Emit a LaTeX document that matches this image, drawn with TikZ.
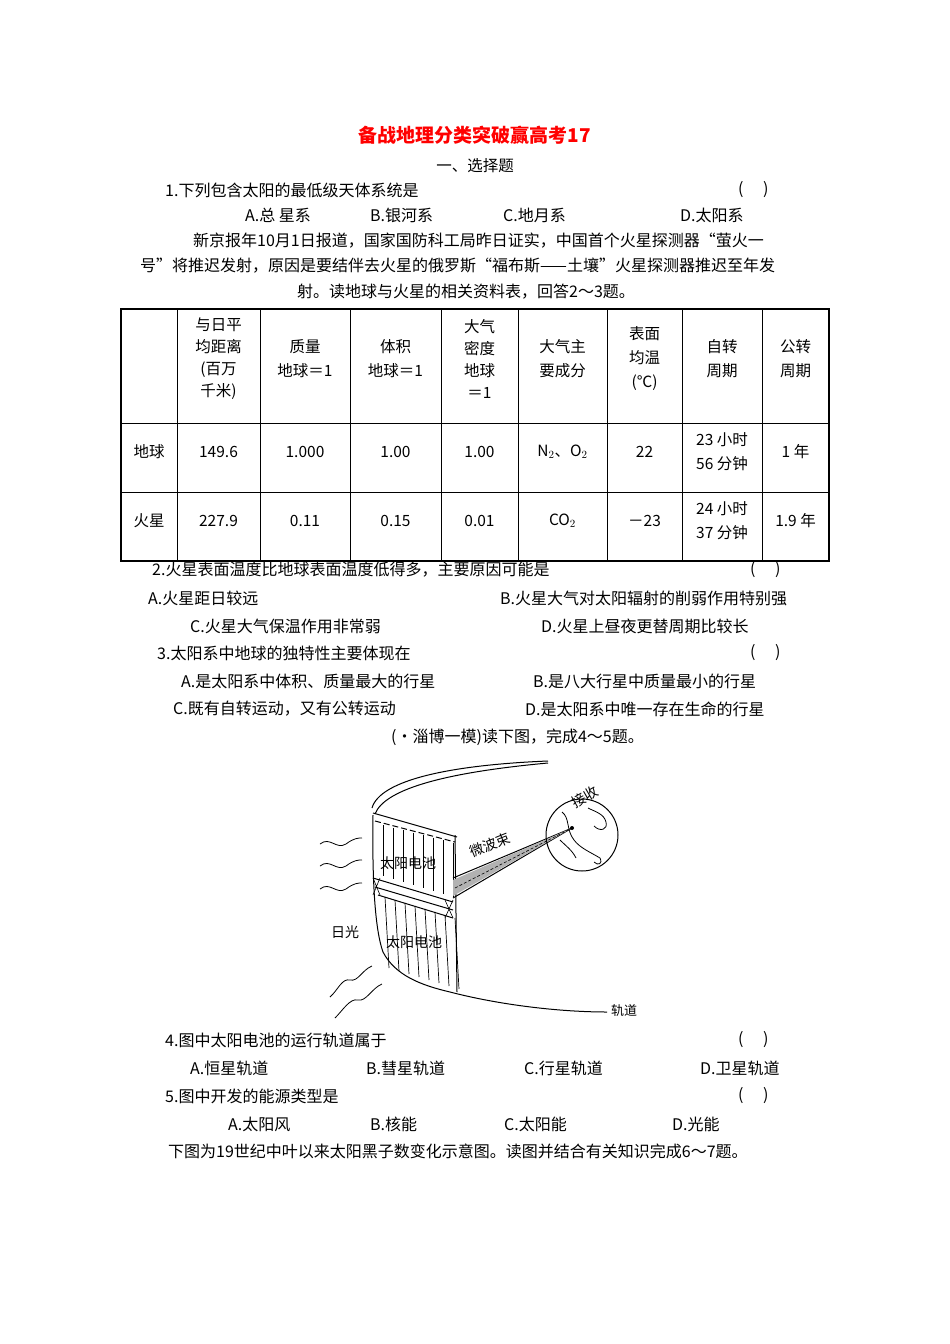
\documentclass[tikz,border=0pt]{standalone}
\usepackage{fontspec}
\setmainfont{Noto Sans CJK SC}
\begin{document}
\begin{tikzpicture}[x=1pt,y=-1pt,
  t/.style={anchor=west,inner sep=0pt,font=\fontsize{16}{18}\selectfont},
  c/.style={inner sep=0pt,font=\fontsize{15.5}{18}\selectfont,align=center},
  ln/.style={line width=1pt},
  wv/.style={line width=0.8pt}]
\fill[white] (0,0) rectangle (950,1344);
\useasboundingbox (0,0) rectangle (950,1344);
\node[c,text=red,font=\fontsize{19}{22}\selectfont\bfseries] (title) at (475,135) {备战地理分类突破赢高考17};
\node[c] (sec) at (475,166) {一、选择题};
\node[t] (q1) at (165,190) {1.下列包含太阳的最低级天体系统是};
\node[t] (q1b) at (738,190) {(\quad\ )};
\node[t] (q1a) at (245,215) {A.总\ 星系};
\node[t] (q1bb) at (370,215) {B.银河系};
\node[t] (q1c) at (503,215) {C.地月系};
\node[t] (q1d) at (680,215) {D.太阳系};
\node[t] (p1) at (193,241) {新京报年10月1日报道，国家国防科工局昨日证实，中国首个火星探测器“萤火一};
\node[t] (p2) at (140,266) {号”将推迟发射，原因是要结伴去火星的俄罗斯“福布斯——土壤”火星探测器推迟至年发};
\node[t] (p3) at (297,292) {射。读地球与火星的相关资料表，回答2～3题。};
% table
\draw[line width=1.2pt] (121,309) rectangle (829,561);
\draw[line width=1pt] (121,423)--(829,423) (121,492)--(829,492);
\foreach \x in {177,260,350,441,518,607,682,762} \draw[line width=1pt] (\x,309)--(\x,561);
\node[c] (h1) at (218.5,359) {与日平\\[4pt]均距离\\[4pt](百万\\[4pt]千米)};
\node[c] (h2) at (305,359) {质量\\[6pt]地球＝1};
\node[c] (h3) at (395.5,359) {体积\\[6pt]地球＝1};
\node[c] (h4) at (479.5,359) {大气\\[4pt]密度\\[4pt]地球\\[4pt]＝1};
\node[c] (h5) at (562.5,359) {大气主\\[6pt]要成分};
\node[c] (h6) at (644.5,359) {表面\\[6pt]均温\\[6pt](℃)};
\node[c] (h7) at (722,359) {自转\\[6pt]周期};
\node[c] (h8) at (795.5,359) {公转\\[6pt]周期};
\node[c] (r1a) at (149,452) {地球};
\node[c] (r1b) at (218.5,452) {149.6};
\node[c] (r1c) at (305,452) {1.000};
\node[c] (r1d) at (395.5,452) {1.00};
\node[c] (r1e) at (479.5,452) {1.00};
\node[c] (r1f) at (562.5,452) {N$_2$、O$_2$};
\node[c] (r1g) at (644.5,452) {22};
\node[c] (r1h) at (722,452) {23 小时\\[6pt]56 分钟};
\node[c] (r1i) at (795.5,452) {1 年};
\node[c] (r2a) at (149,521) {火星};
\node[c] (r2b) at (218.5,521) {227.9};
\node[c] (r2c) at (305,521) {0.11};
\node[c] (r2d) at (395.5,521) {0.15};
\node[c] (r2e) at (479.5,521) {0.01};
\node[c] (r2f) at (562.5,521) {CO$_2$};
\node[c] (r2g) at (644.5,521) {－23};
\node[c] (r2h) at (722,521) {24 小时\\[6pt]37 分钟};
\node[c] (r2i) at (795.5,521) {1.9 年};
% questions
\node[t] (q2) at (152,570) {2.火星表面温度比地球表面温度低得多，主要原因可能是};
\node[t] (q2b) at (750,570) {(\quad\ )};
\node[t] (q2A) at (148,598) {A.火星距日较远};
\node[t] (q2B) at (500,598) {B.火星大气对太阳辐射的削弱作用特别强};
\node[t] (q2C) at (190,626) {C.火星大气保温作用非常弱};
\node[t] (q2D) at (541,626) {D.火星上昼夜更替周期比较长};
\node[t] (q3) at (157,653) {3.太阳系中地球的独特性主要体现在};
\node[t] (q3b) at (750,653) {(\quad\ )};
\node[t] (q3A) at (181,681) {A.是太阳系中体积、质量最大的行星};
\node[t] (q3B) at (533,681) {B.是八大行星中质量最小的行星};
\node[t] (q3C) at (173,709) {C.既有自转运动，又有公转运动};
\node[t] (q3D) at (525,709) {D.是太阳系中唯一存在生命的行星};
\node[t] (q45) at (391,737) {(•淄博一模)读下图，完成4～5题。};
% figure
\draw[ln] (372,808) .. controls (380,780) and (450,765) .. (548,761);
\draw[ln] (375,814) .. controls (385,788) and (450,772) .. (548,763);
\draw[ln] (373,813) -- (457,837);
\draw[ln,dash pattern=on 6pt off 3pt] (375,821) -- (455,842);
\draw[ln] (373,815) .. controls (372,880) and (375,930) .. (383,952) .. controls (395,975) and (420,985) .. (450,992);
\draw[ln] (455,835) -- (457,992);
\draw[ln] (450,992) .. controls (500,1005) and (560,1012) .. (607,1012);
\coordinate (orbend) at (607,1012);
\node[t,font=\fontsize{13}{15}\selectfont] (orbit) at (611,1011) {轨道};
\foreach \i in {0,...,7} {
  \pgfmathsetmacro{\xa}{383+\i*10}
  \draw[line width=0.7pt] (\xa,825+\i*2.5) -- (\xa,876+\i*3);
  \draw[line width=0.7pt] (\xa+2,897+\i*3) -- (\xa+6,968+\i*3);
}
\draw[ln] (373,878) -- (453,902);
\draw[ln] (375,887) -- (453,910);
\draw[ln] (378,895) -- (453,918);
\draw[line width=0.6pt] (373,878)--(380,895) (380,878)--(373,895) (445,900)--(453,918) (453,900)--(445,918);
% beam
\draw[ln] (453,878) -- (572,828);
\draw[ln] (453,898) -- (572,828);
\fill[gray!60] (453,880) -- (572,828) -- (453,896) -- cycle;
\draw[line width=0.6pt,dash pattern=on 3pt off 2pt] (455,888) -- (570,829);
% globe
\draw[ln] (582,835) circle (36);
\draw[line width=0.8pt] (562,812) .. controls (570,818) and (566,830) .. (574,840) .. controls (580,848) and (590,852) .. (600,858) .. controls (603,864) and (598,866) .. (594,862)
 (588,808) .. controls (596,812) and (604,814) .. (606,822) .. controls (608,830) and (600,832) .. (594,826)
 (560,840) .. controls (566,846) and (572,850) .. (576,858);
\fill (572,828) circle (2);
\node[c,font=\fontsize{14}{16}\selectfont,rotate=30] (recv) at (585,797) {接收};
\node[c,font=\fontsize{14}{16}\selectfont,rotate=22] (beam) at (490,845) {微波束};
\node[c,font=\fontsize{14}{16}\selectfont] (cell1) at (408,863) {太阳电池};
\node[c,font=\fontsize{14}{16}\selectfont] (cell2) at (414,942) {太阳电池};
\node[c,font=\fontsize{14}{16}\selectfont] (sun) at (345,932) {日光};
\foreach \y in {844,866,889} \draw[wv] (320,\y) .. controls (330,\y-8) and (336,\y+6) .. (346,\y) .. controls (354,\y-6) and (358,\y-6) .. (362,\y-6);
\draw[wv] (330,997) .. controls (338,990) and (342,978) .. (350,980) .. controls (358,982) and (362,970) .. (372,966);
\draw[wv] (335,1018) .. controls (343,1010) and (350,998) .. (358,1000) .. controls (366,1002) and (372,988) .. (382,984);
% more questions
\node[t] (q4) at (165,1040) {4.图中太阳电池的运行轨道属于};
\node[t] (q4b) at (738,1040) {(\quad\ )};
\node[t] (q4A) at (190,1068) {A.恒星轨道};
\node[t] (q4B) at (366,1068) {B.彗星轨道};
\node[t] (q4C) at (524,1068) {C.行星轨道};
\node[t] (q4D) at (700,1068) {D.卫星轨道};
\node[t] (q5) at (165,1096) {5.图中开发的能源类型是};
\node[t] (q5b) at (738,1096) {(\quad\ )};
\node[t] (q5A) at (228,1124) {A.太阳风};
\node[t] (q5B) at (370,1124) {B.核能};
\node[t] (q5C) at (504,1124) {C.太阳能};
\node[t] (q5D) at (672,1124) {D.光能};
\node[t] (p67) at (168,1151) {下图为19世纪中叶以来太阳黑子数变化示意图。读图并结合有关知识完成6～7题。};
\end{tikzpicture}
\end{document}
